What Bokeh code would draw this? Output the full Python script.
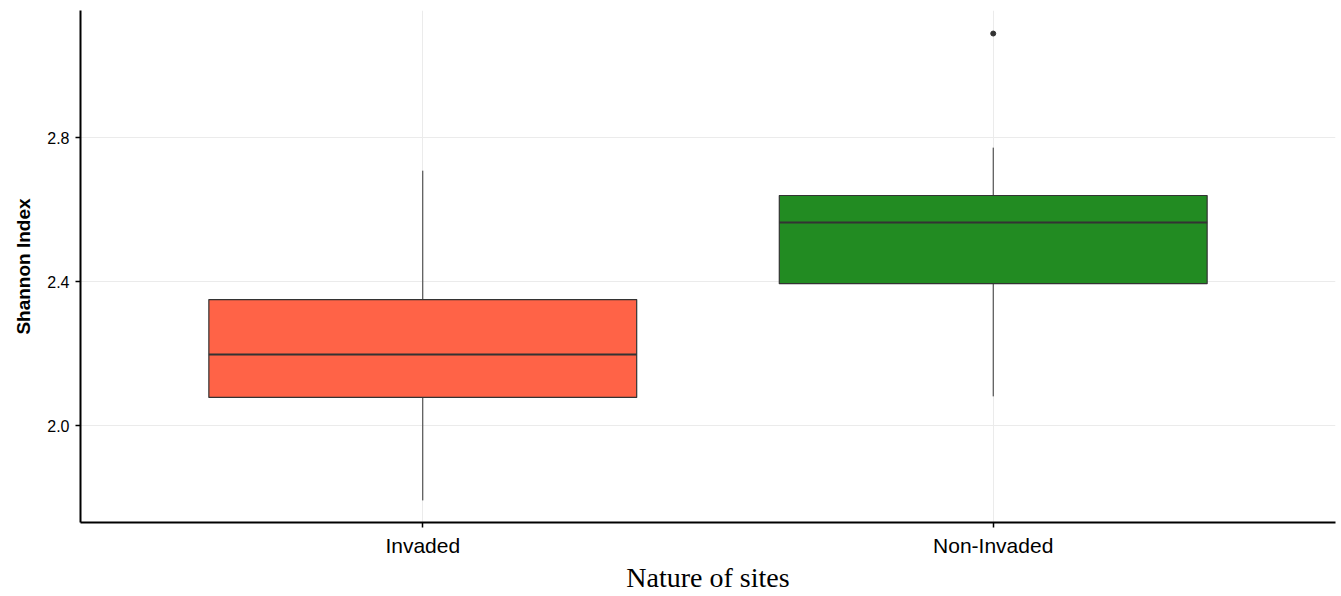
from bokeh.plotting import figure
from bokeh.models import FactorRange, Range1d, ColumnDataSource, FixedTicker, PrintfTickFormatter
from bokeh.embed import file_html
from bokeh.resources import INLINE

# Shannon diversity by site type (box-plot summary statistics)
sites = ["Invaded", "Non-Invaded"]
lower_whisker = [1.792, 2.081]
q1 = [2.078, 2.394]
median = [2.197, 2.564]
q3 = [2.350, 2.639]
upper_whisker = [2.708, 2.772]
box_colors = ["#FF6347", "#228B22"]

outlier_sites = ["Non-Invaded"]
outlier_values = [3.089]

y_ticks = [2.0, 2.4, 2.8]

src = ColumnDataSource(dict(site=sites, lw=lower_whisker, q1=q1, med=median,
                            q3=q3, uw=upper_whisker, color=box_colors))

p = figure(
    x_range=FactorRange(*sites, range_padding=0.1),
    y_range=Range1d(1.7306, 3.153),
    frame_width=1255, frame_height=512,
    min_border_left=80, min_border_right=6, min_border_top=10, min_border_bottom=74,
    output_backend="svg", toolbar_location=None,
)

# whiskers
p.segment(x0="site", y0="q3", x1="site", y1="uw", source=src, line_color="#333333", line_width=1)
p.segment(x0="site", y0="q1", x1="site", y1="lw", source=src, line_color="#333333", line_width=1)

# boxes
p.vbar(x="site", width=0.75, bottom="q1", top="q3", source=src,
       fill_color="color", line_color="#333333", line_width=1.2)

# medians
p.vbar(x="site", width=0.75, bottom="med", top="med", source=src,
       fill_alpha=0, line_color="#333333", line_width=2)

# outliers
p.scatter(x=outlier_sites, y=outlier_values, size=5, color="#333333")

p.outline_line_color = None
p.background_fill_color = "white"
p.border_fill_color = "white"

p.xgrid.grid_line_color = "#EBEBEB"
p.ygrid.grid_line_color = "#EBEBEB"
p.xgrid.grid_line_width = 1
p.ygrid.grid_line_width = 1

p.yaxis.ticker = FixedTicker(ticks=y_ticks)
p.yaxis.formatter = PrintfTickFormatter(format="%.1f")
p.yaxis.minor_tick_line_color = None

for ax in (p.xaxis[0], p.yaxis[0]):
    ax.axis_line_color = "black"
    ax.axis_line_width = 2
    ax.major_tick_line_color = "black"
    ax.major_tick_line_width = 1.5
    ax.major_tick_out = 5
    ax.major_tick_in = 0
    ax.major_label_text_color = "black"
    ax.major_label_text_font = "Liberation Sans"
    ax.axis_label_text_color = "black"

p.yaxis.major_label_text_font_size = "16px"
p.yaxis.major_label_standoff = 6
p.yaxis.axis_label = "Shannon Index"
p.yaxis.axis_label_text_font = "Liberation Sans"
p.yaxis.axis_label_text_font_style = "bold"
p.yaxis.axis_label_text_font_size = "19px"
p.yaxis.axis_label_standoff = 10

p.xaxis.major_label_text_font_size = "21px"
p.xaxis.major_label_standoff = 6
p.xaxis.axis_label = "Nature of sites"
p.xaxis.axis_label_text_font = "Liberation Serif"
p.xaxis.axis_label_text_font_style = "normal"
p.xaxis.axis_label_text_font_size = "28px"
p.xaxis.axis_label_standoff = 2

open("out.html", "w").write(file_html(p, INLINE))
